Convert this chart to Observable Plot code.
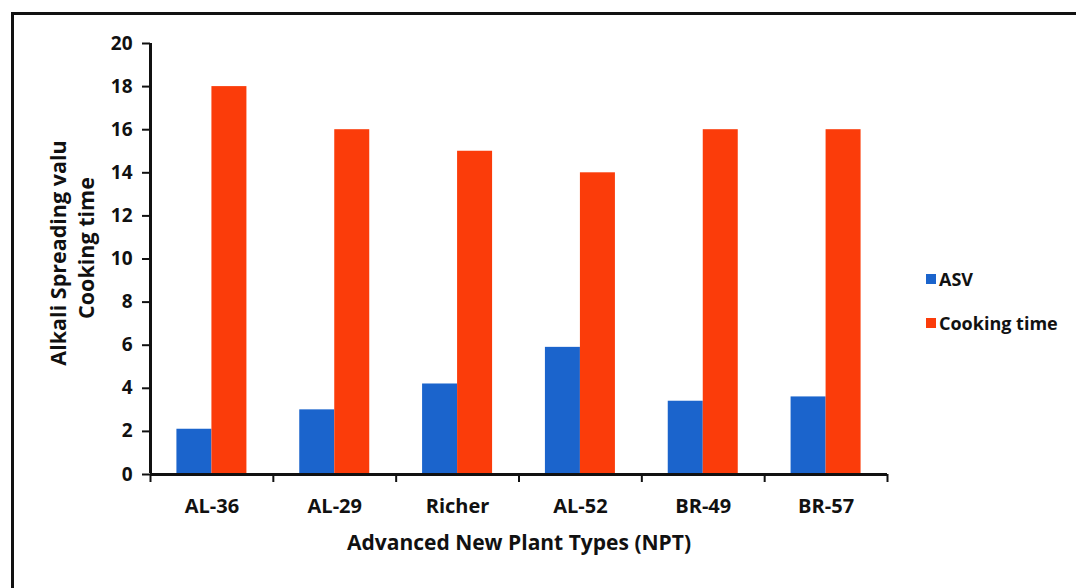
<!DOCTYPE html>
<html>
<head>
<meta charset="utf-8">
<script src="https://cdn.jsdelivr.net/npm/d3@7"></script>
<script src="https://cdn.jsdelivr.net/npm/@observablehq/plot@0.6"></script>
<style>
  body { margin: 0; background: #fff; }
  #wrap { position: relative; width: 1076px; height: 588px; overflow: hidden; background: #fff;
          font-family: "Open Sans", Lato, sans-serif; font-weight: 700; color: #111; }
  #border { position: absolute; left: 11px; top: 12px; width: 1120px; height: 640px;
            border: 3px solid #111; box-sizing: border-box; pointer-events: none; }
  #chart { position: absolute; left: 0; top: 0; }
  .key { position: absolute; left: 926px; height: 24px; line-height: 24px; display: flex; align-items: center;
         font-size: 18px; white-space: nowrap; }
  .key span.sw { display: inline-block; width: 10px; height: 10px; margin-right: 3px; }
</style>
</head>
<body>
<div id="wrap">
  <div id="chart"></div>
  <div id="border"></div>
  <div class="key" style="top:267px"><span class="sw" style="background:#1b64cc"></span>ASV</div>
  <div class="key" style="top:311px"><span class="sw" style="background:#fb3c0a"></span>Cooking time</div>
</div>
<script>
// Rice varieties (advanced new plant types)
const varieties = ["AL-36", "AL-29", "Richer", "AL-52", "BR-49", "BR-57"];
// Alkali spreading value
const asv = [2.1, 3.0, 4.2, 5.9, 3.4, 3.6];
// Cooking time
const cookingTime = [18, 16, 15, 14, 16, 16];
const yTicks = [0, 2, 4, 6, 8, 10, 12, 14, 16, 18, 20];

const asvColor = "#1b64cc";
const cookColor = "#fb3c0a";

const W = 1076, H = 588;
const mL = 150, mR = 189, mT = 43, mB = 114;
const band = (W - mL - mR) / varieties.length;
const barW = 35;

const asvRows = varieties.map((v, i) => ({variety: v, value: asv[i]}));
const cookRows = varieties.map((v, i) => ({variety: v, value: cookingTime[i]}));

const chart = Plot.plot({
  width: W,
  height: H,
  marginLeft: mL,
  marginRight: mR,
  marginTop: mT,
  marginBottom: mB,
  style: {fontFamily: "'Open Sans', Lato, sans-serif", fontSize: "19px", fontWeight: "700", color: "#111", background: "transparent"},
  x: {domain: varieties, padding: 0, round: false},
  y: {domain: [0, 20]},
  marks: [
    // paired bars inside each variety band
    Plot.barY(asvRows, {x: "variety", y: "value", fill: asvColor,
      insetLeft: band / 2 - barW, insetRight: band / 2}),
    Plot.barY(cookRows, {x: "variety", y: "value", fill: cookColor,
      insetLeft: band / 2, insetRight: band / 2 - barW}),
    // axis lines
    Plot.ruleY([0], {stroke: "#111", strokeWidth: 3}),
    Plot.ruleX([varieties[0]], {y1: 0, y2: 20, dx: -band / 2, stroke: "#111", strokeWidth: 3, insetTop: -1}),
    Plot.axisY({ticks: yTicks, tickSize: 8, tickPadding: 10, strokeWidth: 2, label: null, tickFormat: d => d}),
    // category labels
    Plot.axisX({tickSize: 0, tickPadding: 24, fontSize: 20, label: null}),
    // tick marks between categories
    Plot.axisX({ticks: varieties, tickSize: 8, strokeWidth: 2, tickFormat: () => "", dx: -band / 2, label: null}),
    Plot.axisX({ticks: [varieties[varieties.length - 1]], tickSize: 8, strokeWidth: 2, tickFormat: () => "", dx: band / 2, label: null}),
    // axis titles
    Plot.text(["Advanced New Plant Types (NPT)"], {frameAnchor: "bottom", dy: 75, fontSize: 21, fontWeight: 700, fill: "#111"}),
    Plot.text(["Alkali Spreading valu"], {frameAnchor: "left", textAnchor: "middle", lineAnchor: "middle", rotate: -90, dx: -91, dy: -6, fontSize: 21.5, fontWeight: 700, fill: "#111"}),
    Plot.text(["Cooking time"], {frameAnchor: "left", textAnchor: "middle", lineAnchor: "middle", rotate: -90, dx: -63, dy: -11, fontSize: 21.5, fontWeight: 700, fill: "#111"})
  ]
});
document.getElementById("chart").appendChild(chart);
</script>
</body>
</html>
